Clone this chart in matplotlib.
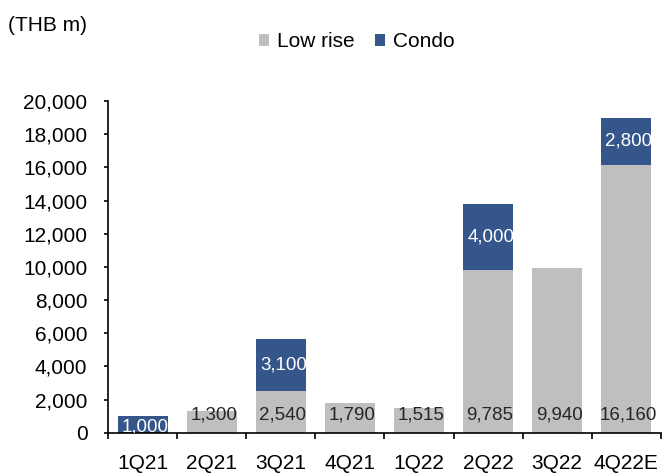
import matplotlib
matplotlib.use("Agg")
import matplotlib.pyplot as plt
import numpy as np

# quarterly presales by product type (THB m)
quarters = ["1Q21", "2Q21", "3Q21", "4Q21", "1Q22", "2Q22", "3Q22", "4Q22E"]
low_rise = [0, 1300, 2540, 1790, 1515, 9785, 9940, 16160]
condo = [1000, 0, 3100, 0, 0, 4000, 0, 2800]
y_ticks = [0, 2000, 4000, 6000, 8000, 10000, 12000, 14000, 16000, 18000, 20000]

GREY = "#BFBFBF"
BLUE = "#34568A"

plt.rcParams["font.family"] = ["Liberation Sans", "DejaVu Sans"]

fig = plt.figure(figsize=(6.64, 4.73), dpi=100)
ax = fig.add_axes([0.163, 0.085, 0.832, 0.7015])

xs = np.arange(len(quarters))
width = 0.73
lr_bars = ax.bar(xs, low_rise, width, color=GREY, label="Low rise", zorder=2)
cd_bars = ax.bar(xs, condo, width, bottom=low_rise, color=BLUE, label="Condo", zorder=2)

# labels: low rise near the base, condo in the middle of its segment
for x, v in zip(xs, low_rise):
    if v:
        ax.annotate(f"{v:,}", (x, 1100), xytext=(1.5, 0), textcoords="offset points",
                    ha="center", va="center", fontsize=13.5, color="#262626", zorder=3)
for x, v, b, rect in zip(xs, condo, low_rise, cd_bars):
    if v:
        yc = b + v / 2 if b else 330
        t = ax.annotate(f"{v:,}", (x, yc), xytext=(2, 0), textcoords="offset points",
                        ha="center", va="center", fontsize=13.5, color="white", zorder=3)
        t.set_clip_path(rect)

ax.set_xlim(-0.5, len(quarters) - 0.5)
ax.set_ylim(0, 20000)
ax.set_yticks(y_ticks)
ax.set_yticklabels([f"{v:,}" for v in y_ticks])
ax.set_xticks(xs)
ax.set_xticklabels(quarters)
ax.set_xticks(np.arange(len(quarters) + 1) - 0.5, minor=True)

ax.tick_params(axis="x", which="major", length=0, pad=15, labelsize=15)
ax.tick_params(axis="x", which="minor", length=4, width=1.2, direction="out")
ax.tick_params(axis="y", length=3, width=1.2, pad=12, labelsize=15)
for side in ["top", "right"]:
    ax.spines[side].set_visible(False)
for side in ["left", "bottom"]:
    ax.spines[side].set_linewidth(1.2)

fig.text(0.012, 0.947, "(THB m)", fontsize=15, va="center", ha="left")
ax.legend(loc="center", bbox_to_anchor=(0.537, 0.912), bbox_transform=fig.transFigure,
          ncol=2, frameon=False, fontsize=15, handlelength=0.5, handleheight=0.5,
          handletextpad=0.35, columnspacing=1.0)

fig.savefig("out.png", dpi=100)
